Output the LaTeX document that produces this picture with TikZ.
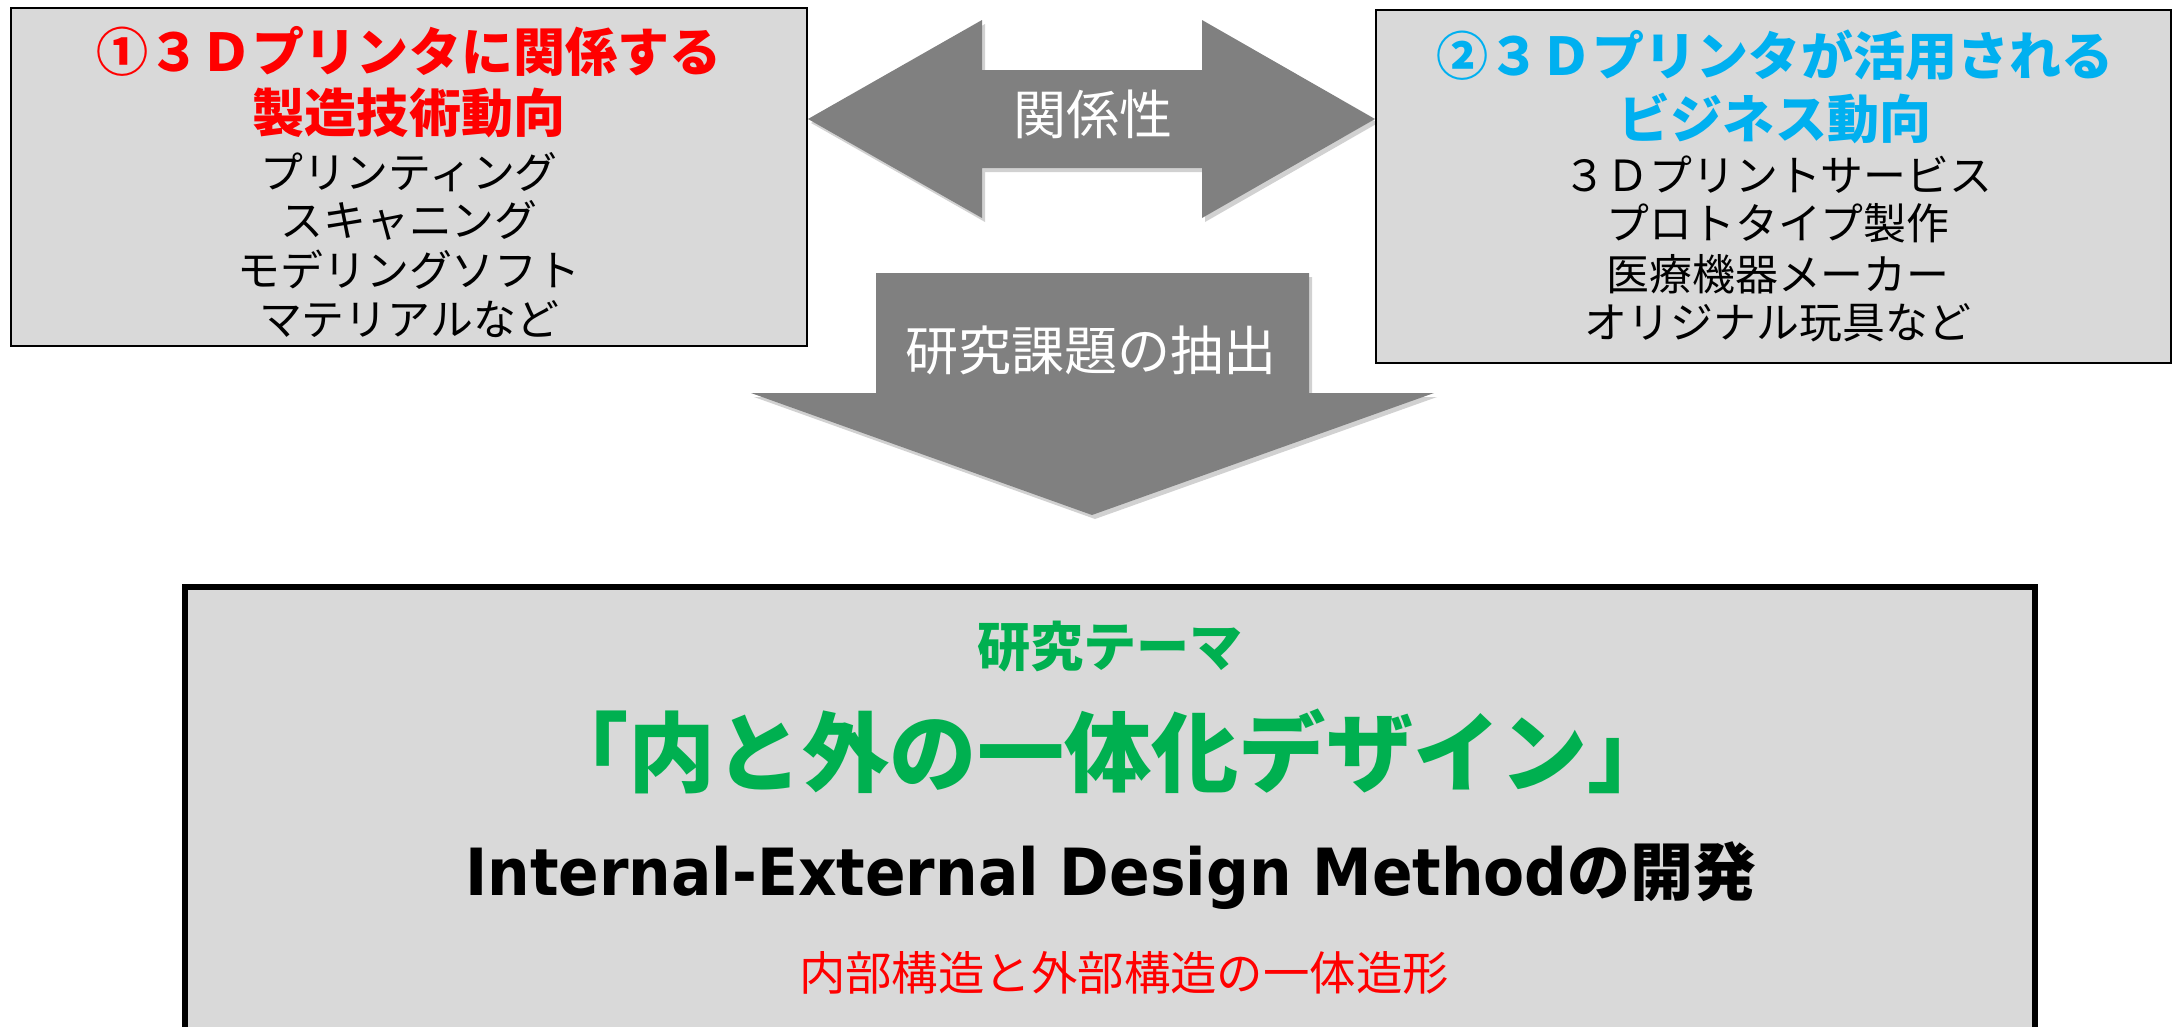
\documentclass[tikz,border=0pt]{standalone}
\usepackage{fontspec}
\newfontfamily\jp{Noto Sans CJK JP}
\newfontfamily\dvb{DejaVu Sans Bold}[FakeStretch=0.92]
\definecolor{boxgray}{HTML}{D9D9D9}
\definecolor{arrgray}{HTML}{808080}
\definecolor{tred}{HTML}{FF0000}
\definecolor{tblue}{HTML}{00B0F0}
\definecolor{tgreen}{HTML}{00B050}
\tikzset{
  panel/.style={draw=black, line width=0.8pt, fill=boxgray},
  mainpanel/.style={draw=black, line width=1.5pt, fill=boxgray},
  bigarrow/.style={fill=arrgray, draw=none},
  arrshadow/.style={fill=black, opacity=0.18, draw=none},
  txt/.style={inner sep=0pt, anchor=base},
  ttl/.style={txt, font=\jp\bfseries\fontsize{14.8pt}{14.8pt}\selectfont},
  body/.style={txt, font=\jp\fontsize{12.2pt}{12.2pt}\selectfont, text=black},
  arrlabel/.style={txt, font=\jp\fontsize{15.1pt}{15.1pt}\selectfont, text=white},
}
\begin{document}
\begin{tikzpicture}[x=0.01cm, y=-0.01cm]
\useasboundingbox (0,0) rectangle (2178,1027);
% double arrow
\fill[arrshadow] ([shift={(3,4)}]808,119) -- ([shift={(3,4)}]982,20) -- ([shift={(3,4)}]982,70) -- ([shift={(3,4)}]1202,70) -- ([shift={(3,4)}]1202,20) -- ([shift={(3,4)}]1375,119) -- ([shift={(3,4)}]1202,218) -- ([shift={(3,4)}]1202,168) -- ([shift={(3,4)}]982,168) -- ([shift={(3,4)}]982,218) -- cycle;
\fill[bigarrow] (808,119) -- (982,20) -- (982,70) -- (1202,70) -- (1202,20) -- (1375,119) -- (1202,218) -- (1202,168) -- (982,168) -- (982,218) -- cycle;
\node[arrlabel] (rel) at (1093,134) {関係性};
% down arrow
\fill[arrshadow] ([shift={(3,4)}]876,273) -- ([shift={(3,4)}]1309,273) -- ([shift={(3,4)}]1309,393) -- ([shift={(3,4)}]1434,393) -- ([shift={(3,4)}]1092,515) -- ([shift={(3,4)}]751,393) -- ([shift={(3,4)}]876,393) -- cycle;
\fill[bigarrow] (876,273) -- (1309,273) -- (1309,393) -- (1434,393) -- (1092,515) -- (751,393) -- (876,393) -- cycle;
\node[arrlabel] (extract) at (1091,370) {研究課題の抽出};
% left box
\draw[panel] (11,8) rectangle (807,346);
\node[ttl, text=tred] (lt1) at (409,71) {①３Ｄプリンタに関係する};
\node[ttl, text=tred] (lt2) at (409,133) {製造技術動向};
\node[body] (lb1) at (409,188) {プリンティング};
\node[body] (lb2) at (409,236) {スキャニング};
\node[body] (lb3) at (409,286) {モデリングソフト};
\node[body] (lb4) at (409,335) {マテリアルなど};
% right box
\draw[panel] (1376,10) rectangle (2171,363);
\node[ttl, text=tblue] (rt1) at (1775,75) {②３Ｄプリンタが活用される};
\node[ttl, text=tblue] (rt2) at (1775,138) {ビジネス動向};
\node[body] (rb1) at (1778,191) {３Ｄプリントサービス};
\node[body] (rb2) at (1778,239) {プロトタイプ製作};
\node[body] (rb3) at (1778,290) {医療機器メーカー};
\node[body] (rb4) at (1778,338) {オリジナル玩具など};
% bottom box
\draw[mainpanel] (185,587) rectangle (2035,1045);
\node[txt, font=\jp\bfseries\fontsize{15.1pt}{15.1pt}\selectfont, text=tgreen] (theme) at (1110,666) {研究テーマ};
\node[txt, font=\jp\bfseries\fontsize{24.8pt}{24.8pt}\selectfont, text=tgreen] (title) at (1108,785) {「内と外の一体化デザイン」};
\node[txt, text=black] (method) at (1111,895) {{\dvb\fontsize{18.5pt}{18.5pt}\selectfont Internal-External Design Method}{\jp\bfseries\fontsize{17.9pt}{17.9pt}\selectfont の開発}};
\node[txt, font=\jp\fontsize{13.2pt}{13.2pt}\selectfont, text=tred] (sub) at (1124,990) {内部構造と外部構造の一体造形};
\end{tikzpicture}
\end{document}
